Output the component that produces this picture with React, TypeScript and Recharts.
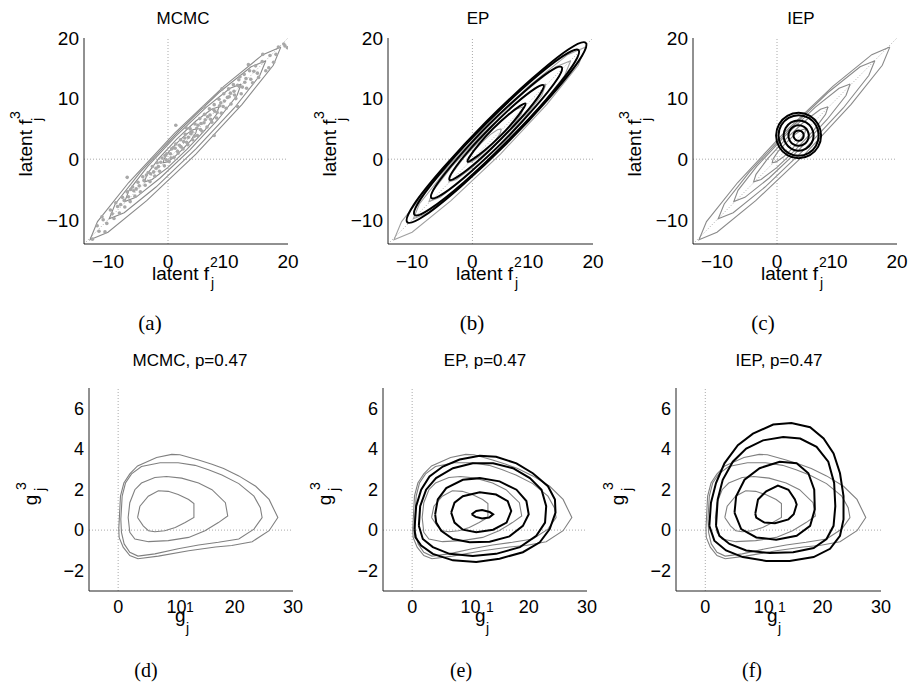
import React from 'react';
import { ComposedChart, Line, Scatter, XAxis, YAxis, ReferenceLine } from 'recharts';

type Pt = [number, number];

const FONT = '"Liberation Sans", Arial, Helvetica, sans-serif';
const SERIF = '"Liberation Serif", "Times New Roman", serif';

// axis ticks
const topTicks = [-10, 0, 10, 20];
const bottomXTicks = [0, 10, 20, 30];
const bottomYTicks = [-2, 0, 2, 4, 6];

// top row, MCMC contours (gray), latent f2 vs f3
const mcmcTop1: Pt[] = [[18.8, 18.5], [15.8, 17.25], [9.35, 12.05], [1.15, 4.35], [-6.55, -3.85], [-11.75, -10.3], [-13.0, -13.3], [-10.0, -12.05], [-3.55, -6.85], [4.65, 0.85], [12.35, 9.05], [17.55, 15.5]];
const mcmcTop2: Pt[] = [[16.3, 16.25], [13.85, 15.25], [8.5, 11.0], [1.8, 4.65], [-4.55, -2.05], [-8.8, -7.4], [-9.8, -9.85], [-7.3, -8.85], [-2.0, -4.6], [4.7, 1.75], [11.05, 8.45], [15.3, 13.8]];
const mcmcTop3: Pt[] = [[12.2, 12.4], [10.35, 11.7], [6.35, 8.55], [1.35, 3.85], [-3.35, -1.15], [-6.5, -5.15], [-7.2, -7.0], [-5.35, -6.3], [-1.35, -3.15], [3.65, 1.55], [8.35, 6.55], [11.5, 10.5]];
const mcmcTop4: Pt[] = [[8.5, 8.65], [7.25, 8.25], [4.65, 6.3], [1.45, 3.3], [-1.55, 0.1], [-3.5, -2.5], [-3.9, -3.75], [-2.65, -3.35], [-0.05, -1.4], [3.15, 1.6], [6.15, 4.8], [8.1, 7.4]];
const mcmcTop5: Pt[] = [[4.8, 5.0], [4.15, 4.85], [2.95, 4.05], [1.5, 2.7], [0.15, 1.25], [-0.65, 0.05], [-0.8, -0.6], [-0.15, -0.45], [1.05, 0.35], [2.5, 1.7], [3.85, 3.15], [4.65, 4.35]];

// MCMC samples shown in (a)
const mcmcSamples: Pt[] = [
  [-12.6, -13.2], [-11.8, -11.0], [-11.0, -9.5], [-10.2, -10.6], [-9.6, -8.4], [-9.0, -9.8], [-8.7, -7.2], [-8.1, -8.9],
  [-7.6, -6.3], [-7.2, -7.9], [-6.8, -5.4], [-6.3, -7.0], [-5.9, -4.6], [-5.5, -6.1], [-5.0, -3.8], [-4.6, -5.4],
  [-4.2, -2.9], [-3.8, -4.3], [-3.3, -2.2], [-3.0, -3.7], [-2.6, -1.2], [-2.2, -2.8], [-1.8, -0.6], [-1.4, -2.0],
  [-1.0, 0.2], [-0.6, -1.1], [-0.2, 0.9], [0.2, -0.4], [0.6, 1.7], [1.0, 0.3], [1.3, 2.5], [1.7, 1.0],
  [2.1, 3.2], [2.5, 1.7], [2.9, 4.1], [3.3, 2.4], [3.7, 5.0], [4.1, 3.2], [4.5, 5.8], [4.9, 3.9],
  [5.3, 6.7], [5.7, 4.6], [6.1, 7.4], [6.5, 5.3], [6.9, 8.3], [7.3, 6.1], [7.7, 9.0], [8.1, 6.8],
  [8.5, 9.9], [8.9, 7.6], [9.3, 10.8], [9.7, 8.4], [10.1, 11.6], [10.5, 9.1], [10.9, 12.3], [11.3, 10.0],
  [11.8, 13.1], [12.2, 10.8], [12.7, 14.0], [13.1, 11.7], [13.6, 14.6], [14.1, 12.6], [14.6, 15.4], [15.1, 13.5],
  [15.7, 16.1], [16.3, 14.6], [17.0, 17.1], [17.6, 16.0], [18.4, 18.5], [19.3, 19.0], [19.9, 18.4],
  [-0.5, 0.6], [0.4, 0.9], [1.2, 1.8], [1.9, 2.3], [2.6, 2.9], [3.4, 3.6], [4.0, 4.5], [4.8, 5.1],
  [5.5, 5.9], [6.2, 6.5], [7.0, 7.3], [7.8, 7.9], [8.6, 8.8], [9.4, 9.6], [10.2, 10.3], [11.0, 11.2],
  [11.9, 12.0], [12.8, 12.7], [-1.6, -1.2], [-2.4, -2.1], [-4.0, -3.5], [-5.3, -4.9], [-6.6, -6.2], [-8.4, -7.8],
  [3.0, 5.2], [6.0, 8.6], [9.0, 11.6], [13.4, 15.6], [15.8, 17.3], [16.8, 15.1], [18.0, 17.3], [-6.8, -3.0],
  [1.3, 5.6], [7.7, 3.9], [11.6, 8.7], [19.5, 18.7], [-10.5, -12.0],
  [-3.6, -2.6], [-2.9, -2.4], [-2.0, -1.5], [-1.2, -0.5], [-0.3, -0.1], [0.5, 0.2], [0.9, 1.9], [1.6, 1.3],
  [2.2, 2.0], [2.8, 3.5], [3.1, 2.8], [3.8, 4.2], [4.4, 3.8], [5.0, 5.6], [5.4, 4.9], [6.0, 6.0],
  [6.6, 7.0], [7.1, 6.6], [7.6, 8.2], [8.2, 7.7], [8.8, 9.3], [9.2, 8.7], [9.9, 10.2], [10.4, 10.9],
  [11.1, 10.6], [11.6, 12.2], [12.4, 11.9], [13.0, 13.3], [13.8, 13.2], [14.3, 14.5], [-4.8, -4.4], [-5.7, -5.2],
  [-6.2, -5.0], [-7.3, -6.8], [-7.9, -7.5], [-9.3, -9.0], [-10.8, -10.0], [-11.5, -11.9], [12.0, 13.6], [14.9, 14.2],
];

// EP contours (black) in (b)
const epTop1: Pt[] = [[18.8, 19.2], [15.9, 18.1], [9.9, 13.3], [2.25, 6.15], [-4.9, -1.5], [-9.7, -7.5], [-10.8, -10.4], [-7.9, -9.3], [-1.9, -4.5], [5.75, 2.65], [12.9, 10.3], [17.7, 16.3]];
const epTop2: Pt[] = [[17.6, 18.0], [15.0, 17.0], [9.4, 12.6], [2.4, 6.0], [-4.2, -1.0], [-8.6, -6.6], [-9.6, -9.2], [-7.0, -8.2], [-1.4, -3.8], [5.6, 2.8], [12.2, 9.8], [16.6, 15.4]];
const epTop3: Pt[] = [[14.8, 15.2], [12.7, 14.4], [8.3, 10.9], [2.7, 5.7], [-2.5, 0.1], [-6.0, -4.3], [-6.8, -6.4], [-4.7, -5.6], [-0.3, -2.1], [5.3, 3.1], [10.5, 8.7], [14.0, 13.1]];
const epTop4: Pt[] = [[11.8, 12.2], [10.3, 11.6], [7.1, 9.1], [3.1, 5.3], [-0.7, 1.3], [-3.2, -1.9], [-3.8, -3.4], [-2.3, -2.8], [0.9, -0.3], [4.9, 3.5], [8.7, 7.5], [11.2, 10.7]];
const epTop5: Pt[] = [[8.8, 9.2], [7.9, 8.8], [5.9, 7.3], [3.4, 5.0], [1.1, 2.5], [-0.4, 0.5], [-0.8, -0.4], [0.1, 0.0], [2.1, 1.5], [4.6, 3.8], [6.9, 6.3], [8.4, 8.3]];

// IEP contours (black) in (c)
const iepTop1: Pt[] = [[7.35, 3.9], [6.85, 5.78], [5.48, 7.15], [3.6, 7.65], [1.73, 7.15], [0.35, 5.78], [-0.15, 3.9], [0.35, 2.03], [1.73, 0.65], [3.6, 0.15], [5.48, 0.65], [6.85, 2.03]];
const iepTop2: Pt[] = [[6.95, 3.9], [6.5, 5.58], [5.28, 6.8], [3.6, 7.25], [1.93, 6.8], [0.7, 5.58], [0.25, 3.9], [0.7, 2.23], [1.93, 1.0], [3.6, 0.55], [5.28, 1.0], [6.5, 2.23]];
const iepTop3: Pt[] = [[6.1, 3.9], [5.77, 5.15], [4.85, 6.07], [3.6, 6.4], [2.35, 6.07], [1.44, 5.15], [1.1, 3.9], [1.44, 2.65], [2.35, 1.74], [3.6, 1.4], [4.85, 1.74], [5.77, 2.65]];
const iepTop4: Pt[] = [[5.3, 3.9], [5.07, 4.75], [4.45, 5.37], [3.6, 5.6], [2.75, 5.37], [2.13, 4.75], [1.9, 3.9], [2.13, 3.05], [2.75, 2.43], [3.6, 2.2], [4.45, 2.43], [5.07, 3.05]];
const iepTop5: Pt[] = [[4.45, 3.9], [4.34, 4.33], [4.03, 4.64], [3.6, 4.75], [3.18, 4.64], [2.86, 4.33], [2.75, 3.9], [2.86, 3.48], [3.18, 3.16], [3.6, 3.05], [4.03, 3.16], [4.34, 3.48]];

// bottom row, MCMC contours (gray), g1 vs g3
const mcmcBot1: Pt[] = [[0.11, 0.05], [0.4, 1.67], [0.98, 2.32], [2.0, 2.77], [3.33, 3.16], [6.6, 3.58], [9.2, 3.73], [10.6, 3.71], [13.8, 3.45], [16.1, 3.24], [18.1, 3.03], [20.7, 2.67], [23.6, 2.16], [25.9, 1.51], [27.4, 0.62], [25.9, -0.03], [23.0, -0.57], [19.5, -0.76], [16.7, -0.83], [12.1, -1.02], [6.9, -1.28], [3.4, -1.41], [2.0, -1.25], [0.86, -0.84], [0.17, -0.36]];
const mcmcBot2: Pt[] = [[0.46, 0.53], [0.69, 1.67], [1.26, 2.32], [2.3, 2.77], [4.0, 3.13], [7.2, 3.32], [10.3, 3.32], [13.2, 3.19], [15.5, 2.97], [17.8, 2.71], [20.7, 2.29], [23.3, 1.67], [24.4, 1.1], [24.7, 0.62], [23.3, 0.05], [20.7, -0.44], [17.2, -0.6], [13.8, -0.73], [10.3, -0.92], [6.3, -1.17], [3.4, -1.28], [2.0, -1.09], [1.03, -0.68], [0.57, -0.11]];
const mcmcBot3: Pt[] = [[1.72, 0.62], [2.0, 1.35], [2.87, 1.99], [4.0, 2.32], [6.3, 2.59], [8.3, 2.64], [10.9, 2.56], [13.8, 2.32], [16.1, 1.99], [18.4, 1.35], [18.8, 0.7], [17.2, 0.37], [14.9, -0.03], [12.1, -0.36], [8.6, -0.52], [5.2, -0.57], [2.87, -0.44], [2.0, -0.11]];
const mcmcBot4: Pt[] = [[3.33, 0.62], [3.74, 1.18], [5.17, 1.67], [6.9, 1.94], [8.6, 1.91], [10.3, 1.75], [12.1, 1.51], [13.0, 1.31], [13.0, 0.62], [11.5, 0.37], [9.8, 0.13], [8.0, -0.03], [6.3, -0.08], [5.2, -0.03], [4.3, 0.21]];

// EP contours (black) in (e)
const epBot1: Pt[] = [[0.4, 0.05], [0.69, 1.18], [1.55, 1.99], [2.98, 2.64], [5.27, 3.13], [8.14, 3.48], [11.6, 3.66], [14.4, 3.61], [17.9, 3.29], [20.7, 2.8], [23.3, 2.16], [24.5, 1.51], [24.6, 0.86], [23.6, 0.05], [21.9, -0.6], [19.0, -1.09], [15.0, -1.41], [11.0, -1.57], [7.0, -1.49], [3.55, -1.17], [1.55, -0.76], [0.57, -0.36]];
const epBot2: Pt[] = [[1.15, 0.21], [1.38, 1.18], [2.4, 1.99], [4.1, 2.56], [7.0, 3.05], [10.4, 3.29], [13.9, 3.29], [17.3, 3.05], [20.2, 2.56], [22.2, 1.99], [23.0, 1.18], [22.8, 0.37], [21.3, -0.28], [18.5, -0.84], [14.4, -1.17], [10.4, -1.28], [6.4, -1.17], [3.55, -0.84], [1.83, -0.44]];
const epBot3: Pt[] = [[3.95, 0.78], [4.4, 1.51], [5.85, 2.07], [8.7, 2.48], [11.6, 2.56], [15.0, 2.4], [17.9, 1.99], [19.6, 1.43], [20.0, 0.78], [19.0, 0.21], [16.7, -0.31], [13.3, -0.57], [9.86, -0.6], [7.0, -0.44], [4.99, -0.03], [4.13, 0.37]];
const epBot4: Pt[] = [[6.7, 0.86], [7.27, 1.35], [8.7, 1.67], [11.6, 1.86], [14.4, 1.75], [16.4, 1.43], [17.0, 0.94], [16.2, 0.37], [13.9, 0.02], [11.0, -0.11], [8.7, 0.02], [7.27, 0.37]];
const epBot5: Pt[] = [[10.2, 0.78], [11.0, 0.94], [12.0, 0.99], [13.3, 0.89], [13.9, 0.78], [13.2, 0.62], [12.0, 0.57], [10.9, 0.65]];

// IEP contours (black) in (f)
const iepBot1: Pt[] = [[0.69, 0.21], [0.97, 1.35], [1.83, 2.32], [3.27, 3.29], [5.56, 4.18], [8.14, 4.75], [11.6, 5.2], [14.7, 5.27], [17.9, 5.07], [20.2, 4.51], [21.9, 3.78], [23.0, 2.8], [23.6, 1.67], [23.6, 0.53], [23.0, -0.28], [21.3, -0.92], [18.5, -1.33], [14.4, -1.52], [10.4, -1.52], [6.4, -1.33], [3.55, -1.0], [1.55, -0.52]];
const iepBot2: Pt[] = [[1.83, 0.21], [2.12, 1.51], [2.98, 2.48], [4.7, 3.37], [6.99, 4.02], [9.86, 4.42], [13.3, 4.59], [16.2, 4.51], [19.0, 4.1], [21.0, 3.37], [22.0, 2.32], [22.2, 1.18], [21.9, 0.21], [20.7, -0.44], [18.5, -0.88], [15.0, -1.09], [11.0, -1.13], [6.99, -1.0], [4.13, -0.68], [2.41, -0.28]];
const iepBot3: Pt[] = [[4.99, 0.86], [5.27, 1.67], [6.7, 2.48], [9.28, 3.05], [12.7, 3.37], [15.6, 3.29], [17.6, 2.8], [18.6, 1.99], [18.7, 1.02], [17.9, 0.21], [15.6, -0.28], [12.1, -0.47], [8.71, -0.36], [6.13, 0.05]];
const iepBot4: Pt[] = [[8.54, 0.81], [9.0, 1.51], [10.4, 1.91], [12.4, 2.19], [14.2, 1.99], [15.3, 1.51], [15.6, 1.26], [15.1, 0.78], [14.2, 0.53], [11.9, 0.34], [10.1, 0.37], [8.7, 0.62]];

const mcmcTop = [mcmcTop1, mcmcTop2, mcmcTop3, mcmcTop4, mcmcTop5];
const mcmcBot = [mcmcBot1, mcmcBot2, mcmcBot3, mcmcBot4];

const toRows = (pts: Pt[], close: boolean) =>
  (close ? [...pts, pts[0]] : pts).map(([x, y]) => ({ x, y }));

const fmt = (v: number) => String(v).replace('-', '\u2212');

// closed Catmull-Rom curve, used for the smooth gaussian contours
const closedSmooth = (ctx: any) => {
  let pts: number[][] = [];
  return {
    areaStart() {},
    areaEnd() {},
    lineStart() {
      pts = [];
    },
    point(x: number, y: number) {
      pts.push([+x, +y]);
    },
    lineEnd() {
      const n = pts.length;
      if (n < 3) return;
      ctx.moveTo(pts[0][0], pts[0][1]);
      for (let i = 0; i < n; i++) {
        const p0 = pts[(i + n - 1) % n];
        const p1 = pts[i];
        const p2 = pts[(i + 1) % n];
        const p3 = pts[(i + 2) % n];
        ctx.bezierCurveTo(
          p1[0] + (p2[0] - p0[0]) / 6, p1[1] + (p2[1] - p0[1]) / 6,
          p2[0] - (p3[0] - p1[0]) / 6, p2[1] - (p3[1] - p1[1]) / 6,
          p2[0], p2[1]
        );
      }
      ctx.closePath();
    },
  };
};

const YW = 50;
const XH = 35;
const PADT = 15;
const PADR = 22;

interface PanelProps {
  x0: number;
  x1: number;
  y0: number;
  y1: number;
  xDomain: [number, number];
  yDomain: [number, number];
  xTicks: number[];
  yTicks: number[];
  fontSize: number;
  xTickGap: number;
  gray: Pt[][];
  grayColor: string;
  black?: Pt[][];
  smooth?: boolean;
  samples?: Pt[];
  diagonal?: boolean;
}

const Panel = (p: PanelProps) => {
  const tick = { fontSize: p.fontSize, fill: '#000', fontFamily: FONT };
  return (
    <div style={{ position: 'absolute', left: p.x0 - YW, top: p.y0 - PADT }}>
      <ComposedChart
        width={p.x1 - p.x0 + YW + PADR}
        height={p.y1 - p.y0 + PADT + XH}
        margin={{ top: PADT, right: PADR, bottom: 0, left: 0 }}
      >
        <XAxis
          type="number"
          dataKey="x"
          domain={p.xDomain}
          ticks={p.xTicks}
          interval={0}
          allowDataOverflow
          height={XH}
          axisLine={{ stroke: '#222' }}
          tickLine={false}
          tickSize={0}
          tickMargin={p.xTickGap}
          tick={tick}
          tickFormatter={fmt}
        />
        <YAxis
          type="number"
          dataKey="y"
          domain={p.yDomain}
          ticks={p.yTicks}
          interval={0}
          allowDataOverflow
          width={YW}
          axisLine={{ stroke: '#222' }}
          tickLine={false}
          tickSize={0}
          tickMargin={5}
          tick={tick}
          tickFormatter={fmt}
        />
        <ReferenceLine x={0} stroke="#aaa" strokeDasharray="1 2" />
        <ReferenceLine y={0} stroke="#aaa" strokeDasharray="1 2" />
        {p.diagonal && (
          <ReferenceLine
            segment={[{ x: p.xDomain[0], y: p.yDomain[0] }, { x: p.xDomain[1], y: p.yDomain[1] }]}
            stroke="#aaa"
            strokeDasharray="1 2"
          />
        )}
        {p.samples && (
          <Scatter
            data={p.samples.map(([x, y]) => ({ x, y }))}
            isAnimationActive={false}
            shape={(s: any) => <circle cx={s.cx} cy={s.cy} r={1.8} fill="#a8a8a8" />}
          />
        )}
        {p.gray.map((c, i) => (
          <Line
            key={'g' + i}
            data={toRows(c, true)}
            dataKey="y"
            type="linear"
            stroke={p.grayColor}
            strokeWidth={1.1}
            dot={false}
            activeDot={false}
            isAnimationActive={false}
          />
        ))}
        {(p.black || []).map((c, i) => (
          <Line
            key={'b' + i}
            data={toRows(c, !p.smooth)}
            dataKey="y"
            type={p.smooth ? (closedSmooth as any) : 'linear'}
            stroke="#000"
            strokeWidth={2}
            dot={false}
            activeDot={false}
            isAnimationActive={false}
          />
        ))}
      </ComposedChart>
    </div>
  );
};

const txt = { fontFamily: FONT, fill: '#000' };

const TopLabels = ({ dx, title, titleX, cap, capX }: { dx: number; title: string; titleX: number; cap: string; capX: number }) => (
  <g>
    <text x={titleX} y={24} textAnchor="middle" fontSize={17} {...txt}>{title}</text>
    <text x={152 + dx} y={280} fontSize={19} {...txt}>latent f</text>
    <text x={210 + dx} y={267} fontSize={14} {...txt}>2</text>
    <text x={211 + dx} y={288} fontSize={14} {...txt}>j</text>
    <text transform={`translate(${32 + dx},148) rotate(-90)`} textAnchor="middle" fontSize={19} {...txt}>latent f</text>
    <text transform={`translate(${20 + dx},119) rotate(-90)`} fontSize={14} {...txt}>3</text>
    <text transform={`translate(${42 + dx},121) rotate(-90)`} fontSize={14} {...txt}>j</text>
    <text x={capX} y={330} textAnchor="middle" fontSize={21} fontFamily={SERIF} fill="#000">{cap}</text>
  </g>
);

const BottomLabels = ({ dx, gx, title, titleX, cap, capX }: { dx: number; gx: number; title: string; titleX: number; cap: string; capX: number }) => (
  <g>
    <text x={titleX} y={366} textAnchor="middle" fontSize={17} {...txt}>{title}</text>
    <text x={gx} y={622} fontSize={19} {...txt}>g</text>
    <text x={gx + 11} y={612} fontSize={14} {...txt}>1</text>
    <text x={gx + 11} y={633} fontSize={14} {...txt}>j</text>
    <text transform={`translate(${37 + dx},500) rotate(-90)`} textAnchor="middle" fontSize={19} {...txt}>g</text>
    <text transform={`translate(${26 + dx},490) rotate(-90)`} fontSize={14} {...txt}>3</text>
    <text transform={`translate(${45 + dx},491) rotate(-90)`} fontSize={14} {...txt}>j</text>
    <text x={capX} y={677} textAnchor="middle" fontSize={20} fontFamily={SERIF} fill="#000">{cap}</text>
  </g>
);

const App: React.FC = () => {
  const top = {
    y0: 38,
    y1: 244,
    xDomain: [-14, 20] as [number, number],
    yDomain: [-14, 20] as [number, number],
    xTicks: topTicks,
    yTicks: topTicks,
    fontSize: 19,
    xTickGap: 11,
    diagonal: true,
  };
  const bottom = {
    y0: 388,
    y1: 591,
    xDomain: [-5, 30] as [number, number],
    yDomain: [-3, 7] as [number, number],
    xTicks: bottomXTicks,
    yTicks: bottomYTicks,
    fontSize: 18,
    xTickGap: 9,
  };
  return (
    <div style={{ position: 'absolute', left: 0, top: 0, width: 910, height: 683, background: '#fff', overflow: 'hidden' }}>
      <Panel {...top} x0={84} x1={288} gray={mcmcTop} grayColor="#8a8a8a" samples={mcmcSamples} />
      <Panel {...top} x0={388} x1={593} gray={mcmcTop} grayColor="#a0a0a0" black={[epTop1, epTop2, epTop3, epTop4, epTop5]} smooth />
      <Panel {...top} x0={693} x1={897} gray={mcmcTop} grayColor="#8a8a8a" black={[iepTop1, iepTop2, iepTop3, iepTop4, iepTop5]} smooth />
      <Panel {...bottom} x0={89} x1={293} gray={mcmcBot} grayColor="#808080" />
      <Panel {...bottom} x0={383} x1={587} gray={mcmcBot} grayColor="#808080" black={[epBot1, epBot2, epBot3, epBot4, epBot5]} />
      <Panel {...bottom} x0={676} x1={881} gray={mcmcBot} grayColor="#808080" black={[iepBot1, iepBot2, iepBot3, iepBot4]} />
      <svg width={910} height={683} style={{ position: 'absolute', left: 0, top: 0, pointerEvents: 'none' }}>
        <TopLabels dx={0} title="MCMC" titleX={183} cap="(a)" capX={150} />
        <TopLabels dx={304} title="EP" titleX={478} cap="(b)" capX={472} />
        <TopLabels dx={609} title="IEP" titleX={801} cap="(c)" capX={763} />
        <BottomLabels dx={0} gx={175} title="MCMC, p=0.47" titleX={190} cap="(d)" capX={146} />
        <BottomLabels dx={294} gx={475} title="EP, p=0.47" titleX={485} cap="(e)" capX={461} />
        <BottomLabels dx={587} gx={767} title="IEP, p=0.47" titleX={779} cap="(f)" capX={752} />
      </svg>
    </div>
  );
};

export default App;
